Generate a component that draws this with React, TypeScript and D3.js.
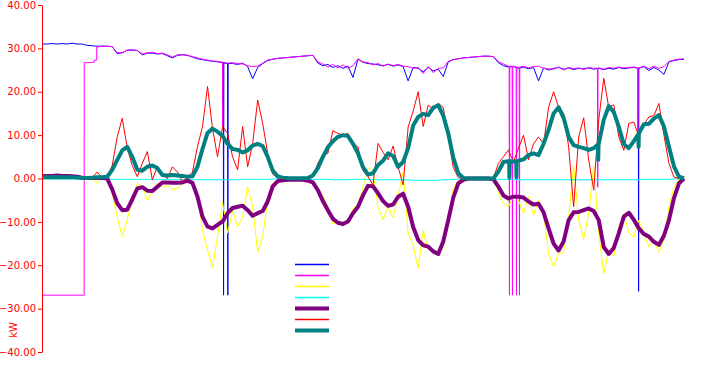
import React, { useEffect, useRef } from 'react';
import * as d3 from 'd3';

const W = 726;
const H = 370;

const yTicks = [-40, -30, -20, -10, 0, 10, 20, 30, 40];
const axisLabel = 'kW';

const blue = [
  31.0, 31.0, 31.1, 31.0, 31.1, 31.0, 31.2, 31.0, 31.0,
  30.7, 30.6, 30.5, 30.5, 30.5, 30.4,
  28.8, 29.0, 29.6, 29.6, 29.5, 28.5,
  28.9, 28.9, 28.7, 28.8, 28.3, 27.8,
  28.4, 28.5, 28.4, 28.0, 27.6, 27.4,
  27.2, 27.0, 26.9, 26.7, 26.5, 26.5,
  26.3, 26.6, 25.8, 23.0, 25.6, 26.5,
  27.2, 27.5, 27.7, 27.8, 27.9, 28.0,
  28.1, 28.2, 28.3, 28.4, 26.6, 26.0,
  26.3, 25.6, 26.0, 25.4, 25.9, 23.3,
  27.5, 26.8, 26.5, 26.4, 26.2, 26.0,
  26.3, 25.9, 26.2, 25.8, 22.5, 25.6,
  25.4, 24.6, 25.6, 24.8, 25.2, 23.5,
  26.9, 27.4, 27.6, 27.8, 27.9, 28.0,
  28.1, 28.2, 28.2, 28.1, 26.7, 26.0,
  25.7, 25.8, 25.4, 25.7, 25.3, 25.6,
  22.5, 25.5, 25.0, 25.4, 25.6, 25.2,
  25.5, 25.1, 25.4, 25.3, 25.5, 25.2,
  25.4, 25.1, 25.4, 25.2, 25.6, 25.3,
  25.5, 25.6, 25.4, 25.8, 24.9, 25.6,
  25.0, 24.0, 26.9, 27.2, 27.4, 27.5,
];
const blueSpikes: [number, number][] = [[36.2, -26.9], [37.05, -26.9], [118.95, -26.0]];

const magenta = [
  -26.9, -26.9, -26.9, -26.9, -26.9, -26.9, -26.9, -26.9, -26.9,
  26.7, 26.8, 30.3, 30.5, 30.5, 30.4,
  29.0, 29.0, 29.6, 29.7, 29.5, 28.7,
  29.0, 29.1, 28.8, 28.9, 28.5, 28.0,
  28.5, 28.6, 28.4, 28.1, 27.8, 27.5,
  27.3, 27.1, 27.0, 26.8, 26.6, 26.7,
  26.5, 26.4, 26.0, 25.8, 25.9, 26.6,
  27.3, 27.5, 27.7, 27.8, 27.9, 28.0,
  28.1, 28.2, 28.3, 28.4, 26.9, 26.4,
  25.7, 26.3, 25.5, 26.2, 25.4, 26.0,
  27.6, 26.9, 26.7, 26.2, 26.5, 25.9,
  26.4, 26.0, 26.3, 25.9, 25.8, 25.4,
  25.6, 24.2, 25.8, 24.4, 25.4, 25.5,
  27.0, 27.4, 27.6, 27.8, 27.9, 28.0,
  28.1, 28.2, 28.2, 28.1, 26.9, 26.4,
  25.9, 25.9, 25.6, 25.9, 25.5, 25.8,
  25.9, 25.4, 25.3, 25.2, 25.7, 25.0,
  25.6, 25.3, 25.5, 25.1, 25.6, 25.4,
  25.5, 25.2, 25.6, 25.4, 25.7, 25.5,
  25.6, 25.7, 25.5, 25.9, 25.3, 25.9,
  25.4, 25.8, 27.0, 27.3, 27.5, 27.6,
];
const magentaSteps: [number, number][] = [
  [8.4, -26.9], [8.42, 26.7], [10.4, 26.8], [10.42, 27.3], [10.9, 27.3], [10.92, 30.3],
];
const magentaSpikes: [number, number][] = [
  [36.0, 12.0], [93.2, -26.9], [93.8, -26.9], [94.6, -26.9], [95.2, -26.9], [110.8, -2.0], [118.8, 10.0],
];

const yellow = [
  0.8, 0.9, 0.8, 1.0, 0.8, 0.9, 0.7, 0.6, 0.3,
  0.0, 0.1, -1.1, 0.1, 0.0, -3.4,
  -9.0, -13.4, -9.5, -4.5, -1.1, -1.8,
  -5.0, -3.0, -1.1, -2.0, -1.5, -2.5,
  -2.3, -1.0, -0.5, -1.0, -3.4, -12.0,
  -16.5, -20.5, -13.4, -5.5, -12.6, -7.5,
  -11.1, -9.0, -1.9, -6.5, -17.0, -13.4,
  -5.0, -1.2, -0.3, 0.0, 0.0, 0.0,
  0.0, 0.0, -0.2, -0.8, -1.9, -4.0,
  -6.5, -10.5, -10.0, -10.4, -9.8, -7.0,
  -6.0, -2.0, 2.5, 1.5, -6.5, -9.5,
  -6.5, -9.0, -4.0, 1.5, -12.6, -15.5,
  -20.7, -12.0, -16.5, -16.8, -17.3, -16.0,
  -9.6, -2.2, -0.4, 0.0, 0.0, 0.0,
  0.0, 0.0, 0.0, 0.5, -3.4, -5.8,
  -6.5, -4.0, -5.0, -8.0, -4.2, -8.5,
  -5.0, -8.0, -17.3, -20.3, -17.3, -17.0,
  -9.0, 3.0, -9.6, -14.0, -8.0, 3.0,
  -12.6, -22.0, -16.5, -18.0, -11.1, -8.0,
  -12.6, -13.5, -9.6, -12.5, -15.7, -14.5,
  -17.0, -14.0, -6.5, -2.0, -0.3, 0.0,
];

const cyan = [
  -0.1, -0.1, -0.1, -0.1, -0.1, -0.1, -0.1, -0.1, -0.1,
  -0.1, -0.1, -0.2, -0.2, -0.2, -0.2,
  -0.2, -0.2, -0.2, -0.2, -0.2, -0.2,
  -0.2, -0.2, -0.2, -0.2, -0.2, -0.2,
  -0.2, -0.2, -0.2, -0.2, -0.3, -0.3,
  -0.3, -0.3, -0.3, -0.3, -0.3, -0.3,
  -0.3, -0.2, -0.2, -0.2, -0.2, -0.2,
  -0.2, -0.1, -0.1, -0.1, -0.1, -0.1,
  -0.1, -0.1, -0.1, -0.2, -0.2, -0.2,
  -0.2, -0.3, -0.3, -0.3, -0.3, -0.2,
  -0.2, -0.2, -0.2, -0.3, -0.3, -0.3,
  -0.3, -0.3, -0.3, -0.3, -0.3, -0.4,
  -0.4, -0.4, -0.4, -0.4, -0.4, -0.3,
  -0.3, -0.2, -0.2, -0.1, -0.1, -0.1,
  -0.1, -0.1, -0.1, -0.1, -0.2, -0.2,
  -0.2, -0.2, -0.3, -0.3, -0.3, -0.3,
  -0.3, -0.3, -0.3, -0.3, -0.3, -0.3,
  -0.3, -0.3, -0.3, -0.3, -0.3, -0.3,
  -0.3, -0.3, -0.3, -0.3, -0.3, -0.3,
  -0.3, -0.3, -0.3, -0.2, -0.2, -0.2,
  -0.2, -0.2, -0.2, -0.1, -0.1, -0.1,
];

const purple = [
  0.6, 0.6, 0.6, 0.7, 0.6, 0.6, 0.5, 0.4, 0.2,
  0.1, 0.1, 0.1, 0.1, 0.0, -2.5,
  -5.7, -7.3, -7.2, -4.8, -2.3, -2.0,
  -2.8, -2.9, -1.9, -0.9, -0.9, -1.0,
  -1.0, -0.9, -0.5, -1.0, -4.2, -8.8,
  -11.1, -11.5, -10.7, -9.9, -8.0, -6.8,
  -6.5, -6.3, -7.3, -8.6, -8.0, -7.5,
  -5.3, -1.8, -0.6, -0.4, -0.3, -0.3,
  -0.3, -0.3, -0.5, -0.9, -2.7, -5.2,
  -7.3, -9.3, -10.2, -10.5, -9.9, -8.0,
  -6.5, -3.9, -1.7, -1.8, -3.4, -5.2,
  -6.3, -6.0, -4.2, -3.5, -6.5, -11.2,
  -14.2, -15.4, -15.7, -16.8, -17.4, -14.5,
  -9.6, -4.4, -1.1, -0.3, 0.0, 0.0,
  0.0, 0.0, 0.0, -0.2, -1.9, -3.9,
  -4.6, -4.2, -4.2, -4.4, -5.3, -6.0,
  -5.8, -7.8, -11.5, -15.0, -16.6, -14.5,
  -9.6, -7.8, -7.7, -7.3, -6.9, -7.5,
  -9.6, -15.8, -17.4, -16.0, -12.6, -8.8,
  -7.9, -9.5, -11.5, -12.8, -13.4, -14.6,
  -15.3, -13.2, -9.6, -4.5, -1.1, 0.0,
];

const red = [
  0.3, 0.3, 0.4, 0.3, 0.4, 0.3, 0.4, 0.2, 0.1,
  0.0, 0.2, 1.5, 0.1, 0.3, 3.0,
  9.6, 13.9, 7.0, 3.0, 0.4, 3.5,
  6.2, -0.3, 2.7, 0.8, 0.0, 2.7,
  1.5, -0.8, 0.3, 1.5, 7.3, 12.0,
  21.2, 11.5, 5.0, 12.0, 10.4, 5.0,
  2.0, 12.0, 2.7, 8.0, 18.1, 12.7,
  5.8, 1.0, 0.1, 0.0, 0.0, 0.0,
  0.0, 0.1, 0.0, 0.4, 3.5, 5.5,
  5.8, 11.0, 10.4, 10.0, 10.4, 8.0,
  7.3, 1.8, 0.4, -1.5, 8.1, 6.0,
  4.3, 7.5, 2.7, -1.5, 11.9, 15.5,
  20.0, 12.0, 16.9, 16.0, 17.3, 16.4,
  9.6, 2.5, 0.2, 0.0, 0.0, 0.0,
  0.0, 0.0, 0.0, 0.1, 3.5, 5.0,
  6.6, 3.8, 7.0, 10.0, 4.3, 8.0,
  9.6, 8.0, 16.4, 20.0, 16.4, 15.0,
  7.3, -6.5, 9.6, 14.0, 4.3, -2.7,
  13.5, 23.1, 16.4, 17.0, 9.6, 6.5,
  12.7, 13.0, 9.6, 12.5, 14.2, 14.5,
  17.3, 10.0, 3.5, 0.3, 0.0, 0.0,
];

const teal = [
  0.3, 0.3, 0.3, 0.3, 0.3, 0.3, 0.3, 0.2, 0.1,
  0.1, 0.2, 0.3, 0.3, 0.4, 2.0,
  4.3, 6.5, 7.3, 5.0, 2.0, 1.8,
  2.7, 3.0, 2.4, 0.8, 0.7, 0.8,
  0.7, 0.6, 0.4, 0.5, 2.7, 6.8,
  10.5, 11.5, 10.8, 9.8, 8.0, 6.8,
  6.6, 6.0, 6.5, 7.6, 8.0, 7.5,
  5.0, 1.8, 0.5, 0.2, 0.1, 0.05,
  0.05, 0.05, 0.1, 0.7, 2.4, 5.0,
  7.2, 8.6, 9.6, 10.0, 9.8, 8.0,
  5.8, 2.6, 0.9, 1.2, 3.1, 4.1,
  5.8, 5.2, 2.7, 3.8, 7.0, 12.2,
  14.2, 14.9, 14.6, 16.3, 16.9, 14.5,
  10.4, 4.8, 1.2, 0.1, 0.0, 0.0,
  0.0, 0.0, 0.0, 0.0, 1.6, 3.8,
  4.0, 3.9, 4.1, 4.4, 5.4, 5.8,
  5.4, 8.0, 11.2, 15.0, 16.4, 14.0,
  9.6, 7.7, 7.3, 7.0, 6.6, 7.0,
  8.0, 13.5, 16.7, 15.3, 11.9, 7.9,
  7.0, 8.6, 10.4, 12.5, 12.6, 13.8,
  14.6, 12.0, 7.3, 2.8, 0.4, 0.0,
];
const tealSpikes: [number, number][] = [[93.2, 0.2], [94.6, 0.3], [110.9, 4.3], [118.95, 7.3]];

function buildPoints(values: number[], steps: [number, number][] = [], spikes: [number, number][] = []) {
  const pts: [number, number][] = values.map((v, i) => [i, v]);
  const interp = (t: number) => {
    const i = Math.max(0, Math.min(values.length - 2, Math.floor(t)));
    const f = t - i;
    return values[i] * (1 - f) + values[i + 1] * f;
  };
  spikes.forEach(([t, v]) => {
    pts.push([t - 0.06, interp(t - 0.06)], [t, v], [t + 0.06, interp(t + 0.06)]);
  });
  steps.forEach((p) => pts.push(p));
  pts.sort((a, b) => a[0] - b[0]);
  return pts;
}

const series = [
  { name: 'blue', color: '#0000ff', width: 1, pts: buildPoints(blue, [], blueSpikes) },
  { name: 'magenta', color: '#ff00ff', width: 1, pts: buildPoints(magenta, magentaSteps, magentaSpikes) },
  { name: 'yellow', color: '#ffff00', width: 1, pts: buildPoints(yellow) },
  { name: 'cyan', color: '#00ffff', width: 1, pts: buildPoints(cyan) },
  { name: 'purple', color: '#800080', width: 4, pts: buildPoints(purple) },
  { name: 'red', color: '#ff0000', width: 1, pts: buildPoints(red) },
  { name: 'teal', color: '#008080', width: 4, pts: buildPoints(teal, [], tealSpikes) },
];

export default function App() {
  const axisRef = useRef<SVGGElement>(null);
  const x = d3.scaleLinear().domain([0, blue.length - 1]).range([42, 684]);
  const y = d3.scaleLinear().domain([-40, 40]).range([352, 5]);
  const line = d3
    .line<[number, number]>()
    .x((d) => x(d[0]))
    .y((d) => y(d[1]));

  useEffect(() => {
    if (!axisRef.current) return;
    const g = d3.select(axisRef.current);
    g.selectAll('*').remove();
    g.call(
      d3
        .axisLeft(y)
        .tickValues(yTicks)
        .tickFormat(d3.format('.2f'))
        .tickSize(4)
        .tickSizeOuter(0)
        .tickPadding(2)
    );
    g.attr('font-family', 'DejaVu Sans').attr('font-size', 10);
    g.select('.domain').attr('stroke', '#ff0000');
    g.selectAll('.tick line').attr('stroke', '#ff0000');
    g.selectAll('.tick text').attr('fill', '#ff0000');
  }, []);

  return (
    <svg
      width={W}
      height={H}
      style={{ position: 'absolute', left: 0, top: 0, display: 'block', background: '#fff' }}
    >
      {series.map((s) => (
        <path
          key={s.name}
          d={line(s.pts) || ''}
          fill="none"
          stroke={s.color}
          strokeWidth={s.width}
          strokeLinejoin="round"
        />
      ))}
      <g ref={axisRef} transform="translate(42,0)" />
      <text
        transform="translate(17,330) rotate(-90)"
        textAnchor="middle"
        fill="#ff0000"
        fontFamily="DejaVu Sans"
        fontSize={10}
      >
        {axisLabel}
      </text>
      <g>
        {series.map((s, k) => (
          <line
            key={s.name}
            x1={295}
            x2={329}
            y1={264.5 + 11 * k}
            y2={264.5 + 11 * k}
            stroke={s.color}
            strokeWidth={s.width === 1 ? 1.5 : 4}
          />
        ))}
      </g>
    </svg>
  );
}
